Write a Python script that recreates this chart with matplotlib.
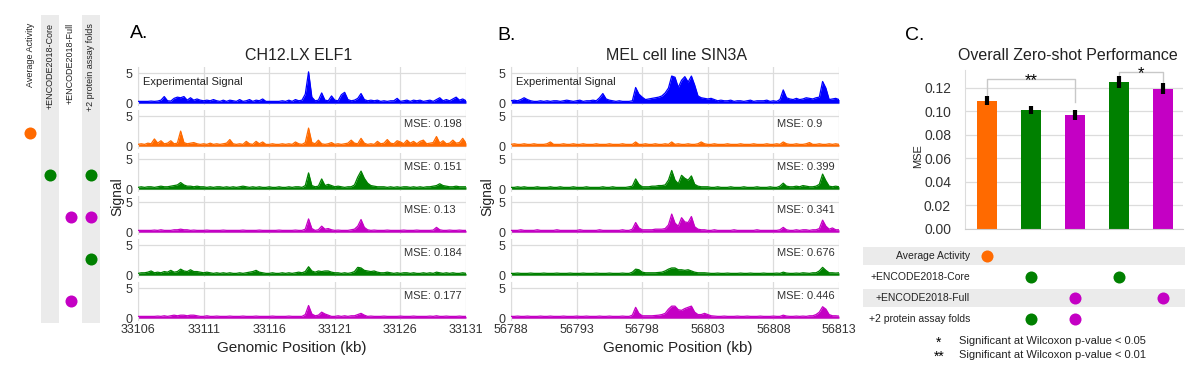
import numpy as np
import matplotlib.pyplot as plt

plt.rcParams['font.family'] = ['Liberation Sans', 'DejaVu Sans']

# Figure size in pixels
W, H = 1200, 379

# Colours
BLUE = '#0000FF'
ORANGE = '#FF6A00'
GREEN = '#008000'
MAGENTA = '#C400C4'
GRID = '#DCDCDC'
BAND = '#EBEBEB'
TEXT = '#333333'

# Model features (columns of the dot matrices)
features = ['Average Activity', '+ENCODE2018-Core', '+ENCODE2018-Full', '+2 protein assay folds']

# Tracks: experimental signal, then one row per model
track_colors = [BLUE, ORANGE, GREEN, MAGENTA, GREEN, MAGENTA]
track_features = [[], [0], [1, 3], [2, 3], [3], [2]]

BIN_KB = 0.25  # width of one signal bin (kb)

# ---- Panel A: CH12.LX ELF1 ----
elf1_start, elf1_end = 33106, 33131
elf1_ticks = [33106, 33111, 33116, 33121, 33126, 33131]
elf1_mse = [None, 0.198, 0.151, 0.13, 0.184, 0.177]

elf1_exp = [0.3, 0.3, 0.3, 0.3, 0.35, 0.3, 0.35, 0.5, 1.1, 0.4,
            0.35, 0.8, 1.0, 0.9, 1.1, 0.5, 0.9, 0.5, 0.7, 0.5,
            0.4, 0.5, 0.4, 0.6, 0.4, 0.3, 0.5, 0.3, 0.5, 0.4,
            0.3, 0.6, 0.3, 0.4, 0.6, 0.3, 0.5, 0.4, 0.7, 0.3,
            0.3, 0.3, 0.3, 0.3, 0.4, 0.3, 0.5, 0.3, 0.6, 0.4,
            0.5, 1.5, 5.2, 1.0, 0.4, 0.5, 1.7, 0.5, 0.4, 1.2,
            0.5, 0.4, 1.4, 1.8, 0.6, 0.4, 0.5, 0.8, 1.6, 0.6,
            0.4, 0.5, 0.4, 0.5, 0.3, 0.4, 0.3, 0.4, 0.4, 0.8,
            0.3, 0.4, 0.5, 0.3, 0.5, 0.4, 0.5, 0.3, 0.4, 0.5,
            0.3, 0.6, 0.9, 0.4, 0.6, 0.4, 0.7, 1.0, 0.5, 0.7,
            0.4]
elf1_avg = [0.3, 0.4, 0.3, 0.5, 0.4, 1.2, 0.5, 0.9, 0.4, 0.5,
            0.9, 0.4, 0.5, 2.5, 0.6, 0.4, 0.5, 0.6, 0.4, 0.3,
            0.4, 0.3, 0.5, 0.3, 0.4, 0.3, 0.4, 0.5, 1.1, 0.4,
            0.3, 0.4, 0.3, 0.8, 0.4, 0.3, 0.8, 0.4, 0.7, 0.3,
            0.3, 0.4, 0.3, 0.3, 0.4, 0.3, 0.4, 0.3, 0.7, 0.4,
            0.3, 0.6, 3.0, 0.6, 0.4, 1.0, 0.4, 0.3, 0.4, 0.6,
            0.3, 0.4, 0.3, 0.4, 0.5, 1.0, 0.5, 0.4, 1.3, 0.5,
            0.3, 0.4, 0.3, 0.8, 0.4, 0.5, 1.1, 0.5, 0.4, 0.9,
            0.7, 0.4, 1.0, 0.5, 0.8, 0.4, 0.8, 1.0, 0.4, 0.5,
            0.6, 1.6, 0.5, 0.9, 0.4, 0.5, 1.0, 0.5, 0.6, 1.3,
            0.5]
elf1_core = [0.3, 0.4, 0.3, 0.4, 0.4, 0.3, 0.4, 0.5, 0.4, 0.4,
             0.5, 0.6, 0.7, 1.1, 0.7, 0.5, 0.5, 0.4, 0.5, 0.4,
             0.4, 0.3, 0.4, 0.3, 0.4, 0.4, 0.3, 0.4, 0.3, 0.4,
             0.3, 0.4, 0.5, 0.4, 0.3, 0.4, 0.3, 0.4, 0.3, 0.3,
             0.4, 0.3, 0.3, 0.4, 0.3, 0.3, 0.4, 0.3, 0.4, 0.4,
             0.3, 0.6, 2.7, 0.6, 0.4, 0.5, 1.7, 0.6, 0.8, 0.6,
             0.4, 0.5, 0.4, 0.3, 0.4, 0.4, 0.7, 2.0, 3.0, 1.8,
             1.0, 0.6, 0.5, 0.4, 0.4, 0.4, 0.3, 0.4, 0.3, 0.4,
             0.3, 0.4, 0.4, 0.3, 0.4, 0.3, 0.4, 0.3, 0.4, 0.4,
             0.5, 0.6, 0.9, 0.6, 0.5, 0.4, 0.4, 0.5, 0.4, 0.4,
             0.4]
elf1_full = [0.3, 0.3, 0.3, 0.3, 0.3, 0.35, 0.3, 0.4, 0.3, 0.3,
             0.3, 0.4, 0.4, 0.5, 0.4, 0.4, 0.3, 0.35, 0.3, 0.3,
             0.3, 0.35, 0.3, 0.3, 0.3, 0.3, 0.35, 0.3, 0.3, 0.3,
             0.3, 0.3, 0.35, 0.3, 0.3, 0.3, 0.3, 0.35, 0.3, 0.3,
             0.3, 0.3, 0.3, 0.35, 0.3, 0.3, 0.3, 0.3, 0.35, 0.3,
             0.3, 0.5, 2.2, 0.6, 0.3, 0.4, 1.0, 0.5, 0.6, 0.4,
             0.3, 0.35, 0.3, 0.3, 0.3, 0.4, 0.5, 1.0, 2.1, 0.8,
             0.4, 0.3, 0.35, 0.3, 0.3, 0.3, 0.35, 0.3, 0.3, 0.3,
             0.3, 0.35, 0.3, 0.3, 0.3, 0.35, 0.3, 0.3, 0.3, 0.3,
             0.35, 0.8, 0.4, 0.3, 0.3, 0.35, 0.3, 0.3, 0.35, 0.3,
             0.3]
elf1_prot = [0.3, 0.4, 0.4, 0.5, 0.7, 0.4, 0.5, 0.4, 0.6, 0.5,
             0.8, 0.5, 0.6, 1.0, 0.7, 0.6, 0.9, 0.6, 0.6, 0.5,
             0.4, 0.5, 0.4, 0.3, 0.4, 0.3, 0.4, 0.3, 0.4, 0.3,
             0.3, 0.4, 0.3, 0.4, 0.5, 0.6, 0.8, 0.5, 0.4, 0.3,
             0.3, 0.4, 0.3, 0.3, 0.4, 0.3, 0.4, 0.3, 0.4, 0.5,
             0.4, 0.6, 1.4, 0.7, 0.5, 0.7, 0.6, 0.7, 0.7, 0.5,
             0.4, 0.4, 0.3, 0.4, 0.3, 0.4, 0.6, 1.3, 1.2, 0.8,
             0.7, 0.6, 0.7, 0.5, 0.4, 0.4, 0.5, 0.4, 0.3, 0.4,
             0.3, 0.4, 0.4, 0.3, 0.4, 0.3, 0.3, 0.4, 0.3, 0.4,
             0.3, 0.5, 0.4, 0.3, 0.4, 0.3, 0.4, 0.3, 0.3, 0.4,
             0.3]
elf1_fullonly = [0.3, 0.3, 0.3, 0.3, 0.3, 0.3, 0.35, 0.3, 0.4, 0.3,
                 0.4, 0.5, 0.4, 0.5, 0.5, 0.4, 0.5, 0.5, 0.4, 0.3,
                 0.3, 0.4, 0.3, 0.3, 0.35, 0.3, 0.3, 0.3, 0.35, 0.3,
                 0.3, 0.3, 0.35, 0.3, 0.3, 0.3, 0.35, 0.3, 0.3, 0.3,
                 0.3, 0.35, 0.3, 0.3, 0.3, 0.3, 0.35, 0.3, 0.3, 0.3,
                 0.3, 0.6, 2.1, 0.7, 0.4, 0.5, 1.0, 0.7, 0.5, 0.3,
                 0.3, 0.4, 0.3, 0.4, 0.3, 0.4, 0.4, 0.6, 0.8, 0.5,
                 0.3, 0.35, 0.3, 0.3, 0.3, 0.35, 0.3, 0.3, 0.3, 0.3,
                 0.35, 0.3, 0.3, 0.3, 0.35, 0.3, 0.3, 0.3, 0.3, 0.35,
                 0.3, 0.4, 0.3, 0.3, 0.35, 0.3, 0.3, 0.3, 0.35, 0.3,
                 0.3]

# ---- Panel B: MEL cell line SIN3A ----
sin3a_start, sin3a_end = 56788, 56813
sin3a_ticks = [56788, 56793, 56798, 56803, 56808, 56813]
sin3a_mse = [None, 0.9, 0.399, 0.341, 0.676, 0.446]

sin3a_exp = [0.4, 0.5, 0.4, 0.6, 0.9, 0.6, 0.4, 0.3, 0.3, 0.4,
             0.3, 0.4, 0.3, 0.4, 0.4, 0.3, 0.4, 0.5, 0.4, 0.3,
             0.4, 0.5, 0.3, 0.4, 0.4, 0.5, 0.4, 0.9, 1.6, 0.7,
             0.5, 0.4, 0.3, 0.4, 0.3, 0.3, 0.3, 0.4, 2.6, 1.5,
             1.0, 0.6, 0.7, 0.8, 0.9, 1.0, 1.2, 1.7, 2.5, 4.5,
             4.3, 2.6, 3.8, 4.4, 3.5, 4.5, 3.0, 1.2, 0.9, 0.8,
             0.7, 0.8, 0.6, 0.4, 0.5, 0.4, 0.4, 0.5, 0.3, 0.4,
             0.4, 0.3, 0.4, 0.5, 0.3, 0.4, 0.4, 0.4, 0.5, 0.3,
             0.4, 0.3, 0.6, 2.2, 0.9, 0.7, 0.6, 0.8, 0.6, 0.7,
             0.9, 0.8, 0.7, 0.9, 1.0, 3.6, 2.5, 0.6, 0.7, 0.8,
             0.6]
sin3a_avg = [0.3, 0.4, 0.3, 0.3, 0.4, 0.3, 0.3, 0.4, 0.3, 0.3,
             0.3, 0.4, 0.7, 0.3, 0.3, 0.3, 0.4, 0.3, 0.3, 0.4,
             0.3, 0.3, 0.4, 0.3, 0.3, 0.3, 0.4, 0.3, 0.3, 0.3,
             0.4, 0.3, 0.3, 0.3, 0.4, 0.3, 0.3, 0.3, 0.7, 0.3,
             0.3, 0.4, 0.3, 0.3, 0.4, 0.3, 0.3, 0.4, 0.3, 0.7,
             0.3, 0.4, 0.3, 0.3, 0.4, 0.3, 0.3, 0.4, 0.7, 0.4,
             0.3, 0.3, 0.4, 0.3, 0.3, 0.3, 0.4, 0.3, 0.3, 0.3,
             0.4, 0.3, 0.3, 0.3, 0.4, 0.3, 0.3, 0.3, 0.4, 0.3,
             0.3, 0.4, 0.3, 0.7, 0.4, 0.3, 0.3, 0.4, 0.3, 0.3,
             0.4, 0.6, 0.3, 0.3, 0.4, 0.3, 0.3, 0.4, 0.3, 0.4,
             0.3]
sin3a_core = [0.3, 0.3, 0.4, 0.3, 0.4, 0.3, 0.3, 0.3, 0.4, 0.3,
              0.3, 0.3, 0.4, 0.3, 0.3, 0.4, 0.3, 0.3, 0.3, 0.4,
              0.3, 0.3, 0.3, 0.4, 0.3, 0.3, 0.3, 0.3, 0.4, 0.3,
              0.3, 0.4, 0.3, 0.3, 0.3, 0.3, 0.4, 0.5, 1.7, 0.8,
              0.4, 0.4, 0.4, 0.5, 0.5, 0.6, 0.6, 0.7, 1.5, 3.1,
              1.5, 0.9, 2.3, 1.8, 1.5, 2.2, 0.8, 0.5, 0.4, 0.4,
              0.4, 0.3, 0.3, 0.4, 0.3, 0.3, 0.3, 0.4, 0.3, 0.3,
              0.3, 0.4, 0.3, 0.3, 0.3, 0.4, 0.3, 0.3, 0.3, 0.4,
              0.3, 0.3, 0.5, 1.0, 0.5, 0.4, 0.4, 0.5, 0.4, 0.6,
              0.5, 0.4, 0.4, 0.5, 0.8, 2.5, 1.4, 0.5, 0.4, 0.5,
              0.4]
sin3a_full = [0.3, 0.3, 0.3, 0.4, 0.3, 0.3, 0.3, 0.3, 0.4, 0.3,
              0.3, 0.3, 0.3, 0.3, 0.4, 0.3, 0.3, 0.3, 0.3, 0.3,
              0.3, 0.4, 0.3, 0.3, 0.3, 0.3, 0.3, 0.4, 0.3, 0.3,
              0.3, 0.3, 0.3, 0.3, 0.4, 0.3, 0.3, 0.5, 1.6, 0.7,
              0.4, 0.4, 0.4, 0.4, 0.5, 0.5, 0.5, 0.6, 1.2, 3.0,
              1.5, 1.0, 2.4, 1.7, 1.6, 2.6, 0.9, 0.5, 0.4, 0.4,
              0.3, 0.3, 0.4, 0.3, 0.3, 0.3, 0.3, 0.3, 0.4, 0.3,
              0.3, 0.3, 0.3, 0.3, 0.3, 0.4, 0.3, 0.3, 0.3, 0.3,
              0.3, 0.3, 0.4, 0.8, 0.4, 0.3, 0.3, 0.4, 0.3, 0.4,
              0.4, 0.3, 0.4, 0.4, 0.6, 2.0, 1.0, 0.5, 0.7, 0.4,
              0.4]
sin3a_prot = [0.3, 0.3, 0.35, 0.3, 0.3, 0.3, 0.35, 0.3, 0.3, 0.3,
              0.35, 0.3, 0.3, 0.3, 0.35, 0.3, 0.3, 0.3, 0.35, 0.3,
              0.3, 0.3, 0.35, 0.3, 0.3, 0.3, 0.35, 0.3, 0.3, 0.3,
              0.35, 0.3, 0.3, 0.3, 0.35, 0.3, 0.3, 0.5, 1.0, 0.9,
              0.5, 0.4, 0.4, 0.4, 0.4, 0.45, 0.5, 0.7, 1.0, 1.2,
              1.2, 0.9, 0.9, 0.8, 0.9, 0.7, 0.5, 0.4, 0.4, 0.4,
              0.35, 0.3, 0.3, 0.35, 0.3, 0.3, 0.35, 0.3, 0.3, 0.3,
              0.35, 0.3, 0.3, 0.35, 0.3, 0.3, 0.3, 0.35, 0.3, 0.3,
              0.3, 0.35, 0.3, 0.5, 0.35, 0.3, 0.3, 0.35, 0.3, 0.4,
              0.35, 0.3, 0.4, 0.4, 0.7, 1.3, 0.8, 0.4, 0.4, 0.35,
              0.4]
sin3a_fullonly = [0.3, 0.3, 0.35, 0.3, 0.3, 0.35, 0.3, 0.3, 0.3, 0.35,
                  0.3, 0.3, 0.35, 0.3, 0.3, 0.3, 0.35, 0.3, 0.3, 0.3,
                  0.35, 0.3, 0.3, 0.35, 0.3, 0.3, 0.3, 0.35, 0.3, 0.3,
                  0.35, 0.3, 0.3, 0.3, 0.35, 0.3, 0.3, 0.5, 1.8, 0.8,
                  0.4, 0.4, 0.4, 0.4, 0.45, 0.5, 0.6, 0.8, 1.5, 2.0,
                  2.0, 1.4, 1.3, 1.6, 1.8, 2.0, 1.0, 0.6, 0.6, 0.8,
                  0.6, 0.4, 0.35, 0.3, 0.3, 0.35, 0.3, 0.3, 0.3, 0.35,
                  0.3, 0.3, 0.35, 0.3, 0.3, 0.3, 0.35, 0.3, 0.3, 0.3,
                  0.35, 0.3, 0.3, 0.5, 0.35, 0.3, 0.3, 0.35, 0.3, 0.35,
                  0.3, 0.4, 0.4, 0.6, 1.0, 1.9, 1.5, 0.6, 0.4, 0.4,
                  0.35]

# ---- Panel C: overall zero-shot performance ----
bar_mse = [0.109, 0.101, 0.097, 0.1245, 0.119]
bar_err = [0.004, 0.0035, 0.0043, 0.005, 0.0048]
bar_colors = [ORANGE, GREEN, MAGENTA, GREEN, MAGENTA]
bar_features = [[0], [1, 3], [2, 3], [1], [2]]
mse_ticks = [0.00, 0.02, 0.04, 0.06, 0.08, 0.10, 0.12]
# (left bar, right bar, stars, bracket height, left leg end, right leg end, star baseline)
significance = [(0, 2, '**', 0.127, 0.114, 0.108, 0.1225),
                (3, 4, '*', 0.1334, 0.128, 0.124, 0.1285)]
legend_lines = [('*', 'Significant at Wilcoxon p-value < 0.05'),
                ('**', 'Significant at Wilcoxon p-value < 0.01')]

# Layout (pixels)
TRACK_TOP, TRACK_STEP, TRACK_H, TRACK_W = 67, 43, 38, 328
DOT_SIZE = 75


def px_box(left, top, right, bottom):
    """Pixel box -> figure-fraction rect."""
    return [left / W, 1 - bottom / H, (right - left) / W, (bottom - top) / H]


def draw_tracks(fig, left_px, tracks, start, end, ticks, mse):
    """Six stacked signal tracks sharing one genomic x-axis."""
    for i, (vals, color) in enumerate(zip(tracks, track_colors)):
        top = TRACK_TOP + i * TRACK_STEP
        ax = fig.add_axes(px_box(left_px, top, left_px + TRACK_W, top + TRACK_H))
        x = start + BIN_KB * np.arange(len(vals))
        ax.fill_between(x, 0, vals, color=color, lw=0, zorder=2)
        ax.plot(x, vals, color=color, lw=0.9, zorder=3)
        ax.set_xlim(start, end)
        ax.set_ylim(-0.3, 6.0)
        ax.set_yticks([0, 5])
        ax.set_xticks(ticks)
        ax.grid(True, color=GRID, lw=0.9, zorder=0)
        for s in ['top', 'right', 'bottom']:
            ax.spines[s].set_visible(False)
        ax.spines['left'].set_color(GRID)
        ax.tick_params(length=0, labelsize=9, colors=TEXT, pad=4)
        if i < len(tracks) - 1:
            ax.set_xticklabels([])
        else:
            ax.tick_params(axis='x', pad=3)
        if mse[i] is None:
            ax.text(0.015, 3.5, 'Experimental Signal', transform=ax.get_yaxis_transform(),
                    fontsize=8, color='#222222', va='center', ha='left')
        else:
            ax.text(0.81, 3.6, f'MSE: {mse[i]}', transform=ax.get_yaxis_transform(),
                    fontsize=8, color=TEXT, va='center', ha='left')


def draw_feature_columns(fig):
    """Left dot matrix: which features each track's model used."""
    ax = fig.add_axes(px_box(19.9, 15, 101, 323))
    ax.set_xlim(-0.5, 3.5)
    ax.set_ylim(5.52, -1.81)
    for c in range(1, len(features), 2):
        ax.axvspan(c - 0.44, c + 0.44, color=BAND, lw=0, zorder=0)
    for c, name in enumerate(features):
        ax.text(c, -1.62, name, rotation=90, ha='center', va='top', fontsize=6.5, color='#222222')
    for row, (feats, color) in enumerate(zip(track_features, track_colors)):
        for c in feats:
            ax.scatter(c, row, s=DOT_SIZE, color=color, lw=0, zorder=3)
    ax.axis('off')


def draw_bars(fig):
    """Panel C bar chart with error bars and significance brackets."""
    ax = fig.add_axes(px_box(965, 70, 1183, 229))
    xs = np.arange(len(bar_mse))
    ax.bar(xs, bar_mse, width=0.45, color=bar_colors, zorder=2)
    ax.errorbar(xs, bar_mse, yerr=bar_err, fmt='none', ecolor='black',
                elinewidth=3, capsize=0, zorder=3)
    ax.set_xlim(-0.5, 4.45)
    ax.set_ylim(0, 0.135)
    ax.set_yticks(mse_ticks)
    ax.set_yticklabels([f'{t:.2f}' for t in mse_ticks])
    ax.set_xticks([])
    ax.yaxis.grid(True, color=GRID, lw=0.9, zorder=0)
    for s in ['top', 'right']:
        ax.spines[s].set_visible(False)
    ax.spines['left'].set_color(GRID)
    ax.spines['bottom'].set_color('#CCCCCC')
    ax.tick_params(length=0, labelsize=10, colors=TEXT, pad=10)
    for a, b, stars, top, la, lb, star_y in significance:
        ax.plot([a, a, b, b], [la, top, top, lb], color='#C8C8C8', lw=1, clip_on=False)
        ax.text((a + b) / 2, star_y, stars, ha='center', va='baseline',
                fontsize=12, clip_on=False)

    # dot matrix under the bars, same x scale
    mx = fig.add_axes(px_box(863, 245.5, 1185, 329.5))
    mx.set_xlim(-2.82, 4.5)
    mx.set_ylim(3.5, -0.5)
    for r in range(0, len(features), 2):
        mx.axhspan(r - 0.43, r + 0.43, color=BAND, lw=0, zorder=0)
    for r, name in enumerate(features):
        mx.text(-0.39, r, name, ha='right', va='center', fontsize=7.5, color='#222222')
    for c, (feats, color) in enumerate(zip(bar_features, bar_colors)):
        for r in feats:
            mx.scatter(c, r, s=DOT_SIZE, color=color, lw=0, zorder=3)
    mx.axis('off')

    for k, (stars, label) in enumerate(legend_lines):
        fig.text(939 / W, 1 - (343 + 14 * k) / H, stars, ha='center', va='center', fontsize=10)
        fig.text(959 / W, 1 - (341 + 14 * k) / H, label, ha='left', va='center',
                 fontsize=8, color='#222222')


def main():
    fig = plt.figure(figsize=(W / 100, H / 100), dpi=100)

    draw_feature_columns(fig)

    elf1 = [elf1_exp, elf1_avg, elf1_core, elf1_full, elf1_prot, elf1_fullonly]
    sin3a = [sin3a_exp, sin3a_avg, sin3a_core, sin3a_full, sin3a_prot, sin3a_fullonly]
    draw_tracks(fig, 138, elf1, elf1_start, elf1_end, elf1_ticks, elf1_mse)
    draw_tracks(fig, 511, sin3a, sin3a_start, sin3a_end, sin3a_ticks, sin3a_mse)

    # panel titles, letters and axis labels
    fig.text(130 / W, 1 - 34 / H, 'A.', fontsize=14, va='center', ha='left')
    fig.text(497 / W, 1 - 35 / H, 'B.', fontsize=14, va='center', ha='left')
    fig.text(905 / W, 1 - 35 / H, 'C.', fontsize=14, va='center', ha='left')
    fig.text(299 / W, 1 - 55 / H, 'CH12.LX ELF1', fontsize=11.5, ha='center', va='center', color='#222222')
    fig.text(677 / W, 1 - 55 / H, 'MEL cell line SIN3A', fontsize=11.5, ha='center', va='center', color='#222222')
    fig.text(1068 / W, 1 - 55 / H, 'Overall Zero-shot Performance', fontsize=11.5, ha='center', va='center', color='#222222')
    for x in (292, 678):
        fig.text(x / W, 1 - 348 / H, 'Genomic Position (kb)', fontsize=11, ha='center', va='center', color='#222222')
    for x in (117, 487):
        fig.text(x / W, 1 - 197 / H, 'Signal', fontsize=10, rotation=90, ha='center', va='center', color='#222222')
    fig.text(918 / W, 1 - 156 / H, 'MSE', fontsize=8, rotation=90, ha='center', va='center', color='#222222')

    draw_bars(fig)

    fig.savefig('out.png', dpi=100)


if __name__ == "__main__":
    main()
